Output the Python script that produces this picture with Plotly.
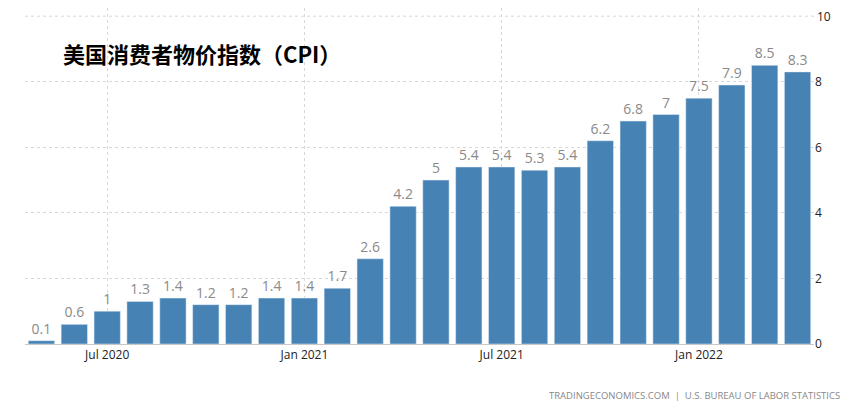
import plotly.graph_objects as go

months = ["2020-05", "2020-06", "2020-07", "2020-08", "2020-09", "2020-10", "2020-11", "2020-12",
          "2021-01", "2021-02", "2021-03", "2021-04", "2021-05", "2021-06", "2021-07", "2021-08",
          "2021-09", "2021-10", "2021-11", "2021-12", "2022-01", "2022-02", "2022-03", "2022-04"]
cpi = [0.1, 0.6, 1, 1.3, 1.4, 1.2, 1.2, 1.4, 1.4, 1.7, 2.6, 4.2, 5, 5.4, 5.4, 5.3,
       5.4, 6.2, 6.8, 7, 7.5, 7.9, 8.5, 8.3]
tick_months = ["2020-07", "2021-01", "2021-07", "2022-01"]
tick_labels = ["Jul 2020", "Jan 2021", "Jul 2021", "Jan 2022"]
y_ticks = [0, 2, 4, 6, 8, 10]

fig = go.Figure(go.Bar(
    x=months, y=cpi,
    marker=dict(color="#4682b4"),
    text=[f"{v:g}" for v in cpi], textposition="outside",
    textfont=dict(color="#8a8a8a", size=14),
    cliponaxis=False,
    width=0.8,
))

fig.update_layout(
    width=848, height=417,
    margin=dict(l=17, r=42, t=0, b=81),
    plot_bgcolor="white", paper_bgcolor="white",
    font=dict(family="Open Sans, DejaVu Sans", color="#222"),
    showlegend=False,
    xaxis=dict(type="category", tickvals=tick_months, ticktext=tick_labels,
               showgrid=True, gridcolor="#d8d8d8", griddash="dot",
               showline=True, linecolor="#c8c8c8", ticks="", tickfont=dict(size=12)),
    yaxis=dict(side="right", range=[0, 10.25], tickvals=y_ticks[:-1], showgrid=True,
               gridcolor="#d8d8d8", griddash="dot", zeroline=False,
               tickfont=dict(size=12)),
    annotations=[
        dict(text="<b>美国消费者物价指数（CPI）</b>", xref="paper", yref="paper",
             x=0.045, y=0.92, xanchor="left", showarrow=False,
             font=dict(size=22, color="black", family="Noto Sans CJK SC")),
        dict(text="TRADINGECONOMICS.COM  |  U.S. BUREAU OF LABOR STATISTICS",
             xref="paper", yref="paper", x=1.035, y=-0.18, xanchor="right",
             showarrow=False, font=dict(size=9.5, color="#888")),
        dict(text=str(y_ticks[-1]), xref="paper", yref="y", x=1.0, y=y_ticks[-1],
             xanchor="left", xshift=1, showarrow=False, font=dict(size=12)),
    ],
    shapes=[dict(type="line", xref="paper", yref="y", x0=0, x1=1, y0=y_ticks[-1], y1=y_ticks[-1],
                 line=dict(color="#d8d8d8", width=1, dash="dot"), layer="below")],
)

fig.write_html("out.html")
